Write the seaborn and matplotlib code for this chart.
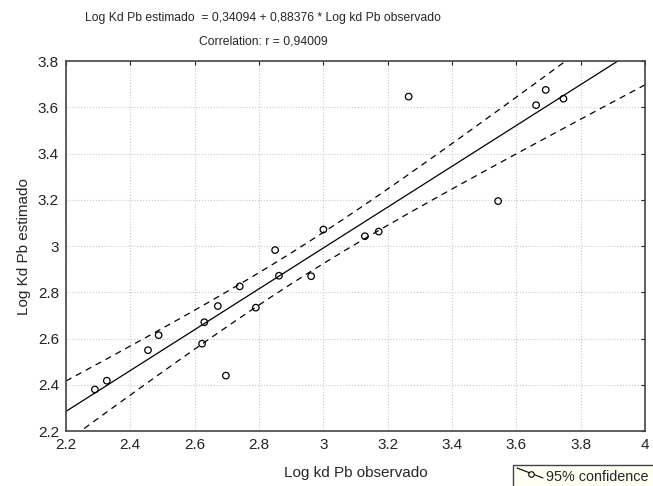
import numpy as np
import pandas as pd
import matplotlib
matplotlib.use("Agg")
import matplotlib.pyplot as plt
from matplotlib.patches import Rectangle
import seaborn as sns

log_kd_obs = [2.290, 2.327, 2.455, 2.488, 2.623, 2.630, 2.672, 2.697, 2.740, 2.790,
              2.850, 2.862, 2.962, 3.000, 3.129, 3.172, 3.265, 3.543, 3.661, 3.691, 3.746]
log_kd_est = [2.380, 2.418, 2.550, 2.615, 2.578, 2.671, 2.741, 2.440, 2.826, 2.734,
              2.983, 2.872, 2.870, 3.072, 3.043, 3.063, 3.647, 3.195, 3.610, 3.676, 3.638]

intercept = 0.34094
slope = 0.88376
x_ticks = [2.2, 2.4, 2.6, 2.8, 3.0, 3.2, 3.4, 3.6, 3.8, 4.0]
y_ticks = [2.2, 2.4, 2.6, 2.8, 3.0, 3.2, 3.4, 3.6, 3.8]

df = pd.DataFrame({"obs": log_kd_obs, "est": log_kd_est})

# fitted line and 95% confidence band for the mean
x = df["obs"].to_numpy()
y = df["est"].to_numpy()
n = len(x)
resid = y - (intercept + slope * x)
s = np.sqrt(np.sum(resid ** 2) / (n - 2))
sxx = np.sum((x - x.mean()) ** 2)
t_val = 2.093
xs = np.linspace(2.2, 4.0, 200)
fit = intercept + slope * xs
half = t_val * s * np.sqrt(1 / n + (xs - x.mean()) ** 2 / sxx)
band = pd.DataFrame({"x": xs, "fit": fit, "lo": fit - half, "hi": fit + half})

sns.set_style("white")
plt.rcParams["font.family"] = ["Liberation Sans", "DejaVu Sans"]

fig = plt.figure(figsize=(6.53, 4.86), dpi=100)
ax = fig.add_axes([0.101, 0.113, 0.887, 0.761])

sns.lineplot(data=band, x="x", y="fit", color="black", lw=0.9, ax=ax)
sns.lineplot(data=band, x="x", y="lo", color="black", lw=0.9, ax=ax,
             linestyle=(0, (5, 4)))
sns.lineplot(data=band, x="x", y="hi", color="black", lw=0.9, ax=ax,
             linestyle=(0, (5, 4)))
sns.scatterplot(data=df, x="obs", y="est", marker="o", s=22, facecolor="none",
                edgecolor="black", linewidth=0.9, ax=ax, zorder=5)

ax.set_xlim(2.2, 4.0)
ax.set_ylim(2.2, 3.8)
ax.set_xticks(x_ticks)
ax.set_yticks(y_ticks)
ax.set_xticklabels([f"{v:g}" for v in x_ticks])
ax.set_yticklabels([f"{v:g}" for v in y_ticks])
ax.grid(True, color="#c8c8c8", linestyle=":", linewidth=0.8)
ax.tick_params(direction="in", length=3, width=0.8, labelsize=11, colors="#222222",
               top=True, right=True, pad=5)
for sp in ax.spines.values():
    sp.set_color("#444444")
    sp.set_linewidth(1.2)

ax.set_xlabel("Log kd Pb observado", fontsize=11, labelpad=10)
ax.set_ylabel("Log Kd Pb estimado", fontsize=11, labelpad=5)

fig.text(0.403, 0.963, "Log Kd Pb estimado  = 0,34094 + 0,88376 * Log kd Pb observado",
         ha="center", va="center", fontsize=8.7)
fig.text(0.403, 0.914, "Correlation: r = 0,94009", ha="center", va="center", fontsize=8.7)

# legend box at bottom right (partly cut off, as in the original)
fig.patches.append(Rectangle((0.785, -0.02), 0.25, 0.063, transform=fig.transFigure,
                             fc="#fffff4", ec="#444444", lw=1))
fig.lines.append(plt.Line2D([517 / 653, 543 / 653], [1 - 468 / 486, 1 - 478 / 486],
                            transform=fig.transFigure, color="black", lw=0.8))
fig.lines.append(plt.Line2D([531 / 653], [1 - 473.5 / 486], transform=fig.transFigure,
                            marker="o", mfc="#fffff4", mec="black", ms=4, mew=0.8, lw=0))
fig.text(546 / 653, 1 - 477 / 486, "95% confidence", fontsize=10.4, va="center", ha="left")

fig.savefig("out.png", dpi=100)
